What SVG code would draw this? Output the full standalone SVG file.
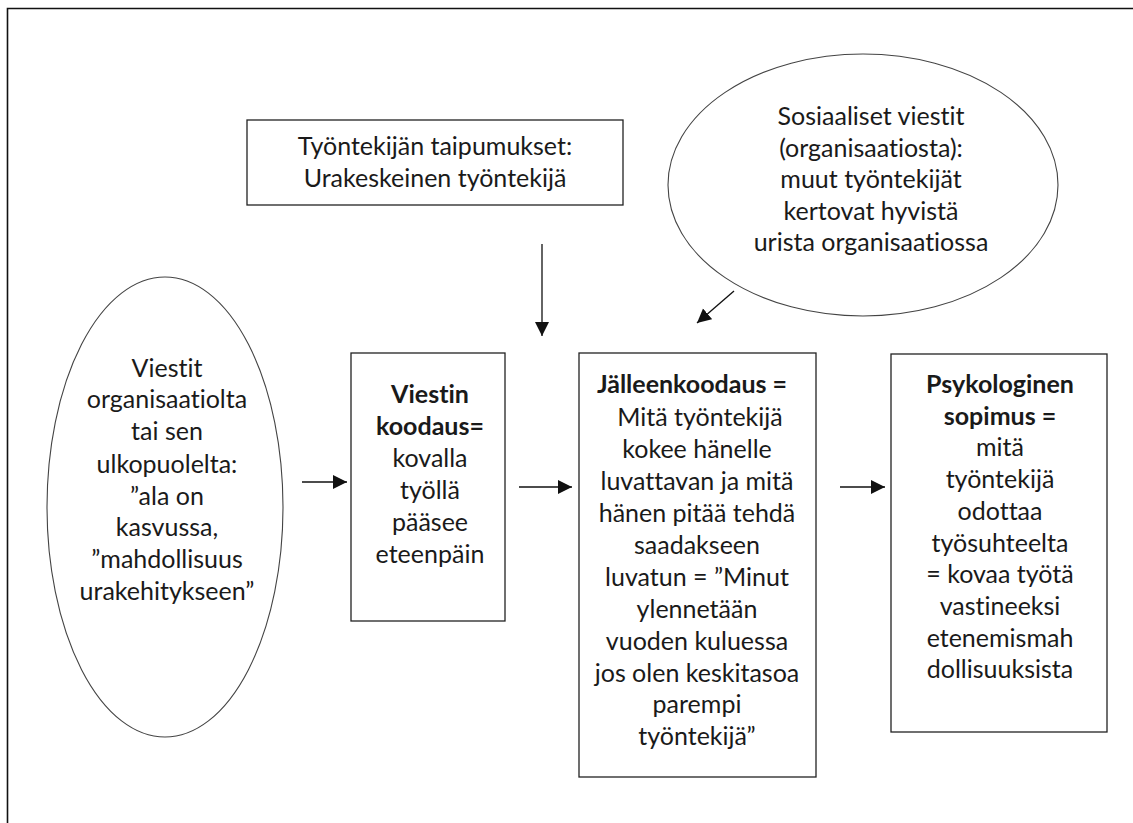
<svg xmlns="http://www.w3.org/2000/svg" width="1133" height="823" viewBox="0 0 1133 823">
<style>
.box{fill:#fff;stroke:#222;stroke-width:1.3}
.ell{fill:#fff;stroke:#444;stroke-width:1.1}
.t{font-family:Lato,"Liberation Sans",sans-serif;font-size:25px;fill:#1a1a1a;text-anchor:middle;font-variant-ligatures:none;font-feature-settings:"liga" 0}
.b{font-weight:bold}
.c{stroke:#111;stroke-width:1.3;fill:none;marker-end:url(#ah)}
</style>
<defs>
<marker id="ah" markerUnits="userSpaceOnUse" markerWidth="16" markerHeight="16" refX="14" refY="7" orient="auto">
<path d="M0,0 L14,7 L0,14 z" fill="#111"/>
</marker>
</defs>
<rect width="1133" height="823" fill="#fff"/>
<path d="M7.5,823 V8.5 H1133" fill="none" stroke="#111" stroke-width="1.6"/>

<g id="node-taipumukset">
<rect class="box" x="247" y="120" width="376" height="85"/>
<text class="t" x="435" y="155">Työntekijän taipumukset:</text>
<text class="t" x="435" y="187">Urakeskeinen työntekijä</text>
</g>

<g id="node-sosiaaliset">
<ellipse class="ell" cx="863" cy="185" rx="195" ry="131"/>
<text class="t" x="871" y="125">Sosiaaliset viestit</text>
<text class="t" x="871" y="157">(organisaatiosta):</text>
<text class="t" x="871" y="188">muut työntekijät</text>
<text class="t" x="871" y="220">kertovat hyvistä</text>
<text class="t" x="871" y="251">urista organisaatiossa</text>
</g>

<g id="node-viestit">
<ellipse class="ell" cx="165" cy="507" rx="118" ry="230"/>
<text class="t" x="167" y="377">Viestit</text>
<text class="t" x="167" y="408">organisaatiolta</text>
<text class="t" x="167" y="440">tai sen</text>
<text class="t" x="167" y="473">ulkopuolelta:</text>
<text class="t" x="167" y="505">”ala on</text>
<text class="t" x="167" y="536">kasvussa,</text>
<text class="t" x="167" y="568">”mahdollisuus</text>
<text class="t" x="167" y="600">urakehitykseen”</text>
</g>

<g id="node-koodaus">
<rect class="box" x="351" y="353" width="154" height="268"/>
<text class="t b" x="430" y="403">Viestin</text>
<text class="t b" x="430" y="435">koodaus=</text>
<text class="t" x="430" y="467">kovalla</text>
<text class="t" x="430" y="499">työllä</text>
<text class="t" x="430" y="531">pääsee</text>
<text class="t" x="430" y="563">eteenpäin</text>
</g>

<g id="node-jalleenkoodaus">
<rect class="box" x="579" y="353" width="237" height="424"/>
<text class="t b" x="692" y="393">Jälleenkoodaus =</text>
<text class="t" x="700" y="426">Mitä työntekijä</text>
<text class="t" x="697" y="458">kokee hänelle</text>
<text class="t" x="697" y="490">luvattavan ja mitä</text>
<text class="t" x="697" y="522">hänen pitää tehdä</text>
<text class="t" x="697" y="554">saadakseen</text>
<text class="t" x="697" y="586">luvatun = ”Minut</text>
<text class="t" x="697" y="618">ylennetään</text>
<text class="t" x="697" y="650">vuoden kuluessa</text>
<text class="t" x="697" y="682">jos olen keskitasoa</text>
<text class="t" x="697" y="713">parempi</text>
<text class="t" x="697" y="745">työntekijä”</text>
</g>

<g id="node-sopimus">
<rect class="box" x="891" y="354" width="216" height="378"/>
<text class="t b" x="1000" y="393">Psykologinen</text>
<text class="t b" x="1000" y="425">sopimus =</text>
<text class="t" x="1000" y="456">mitä</text>
<text class="t" x="1000" y="488">työntekijä</text>
<text class="t" x="1000" y="520">odottaa</text>
<text class="t" x="1000" y="552">työsuhteelta</text>
<text class="t" x="1000" y="583">= kovaa työtä</text>
<text class="t" x="1000" y="615">vastineeksi</text>
<text class="t" x="1000" y="647">etenemismah</text>
<text class="t" x="1000" y="678">dollisuuksista</text>
</g>

<g id="connectors">
<line class="c" x1="302" y1="482" x2="347" y2="482"/>
<line class="c" x1="519" y1="487" x2="572" y2="487"/>
<line class="c" x1="840" y1="487" x2="885" y2="487"/>
<line class="c" x1="542" y1="244" x2="542" y2="336"/>
<line class="c" x1="734" y1="291" x2="697" y2="323"/>
</g>
</svg>
